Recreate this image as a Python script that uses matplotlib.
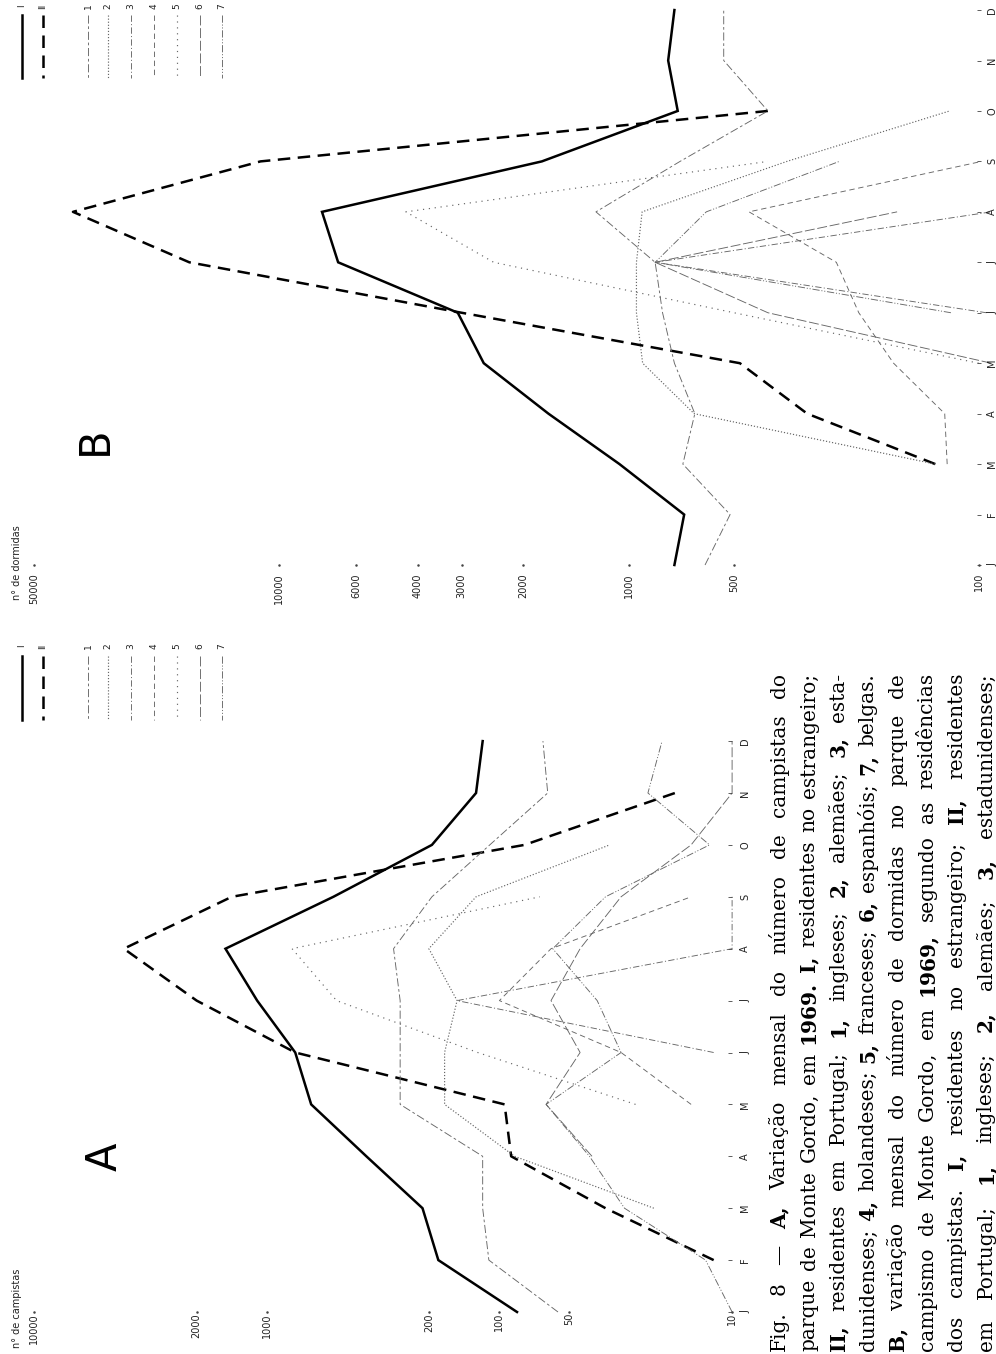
import numpy as np
import matplotlib.pyplot as plt
from matplotlib.lines import Line2D
from matplotlib.font_manager import FontProperties

W, H = 996, 1354
nan = np.nan

meses = ['J', 'F', 'M', 'A', 'M', 'J', 'J', 'A', 'S', 'O', 'N', 'D']
idx = np.arange(12)

# A - número de campistas (J ... D)
camp_I = [84, 183, 214, 373, 644, 754, 1099, 1504, 517, 195, 126, 118]
camp_II = [nan, 12, 35, 89, 95, 754, 2000, 4110, 1413, 78, 17.6, nan]
camp_1 = [56, 111, 118, 118, 267, 267, 267, 285, 195, 110, 62, 65]
camp_2 = [nan, nan, 21.7, 86, 172, 172, 152, 201, 126, 33.6, nan, nan]
camp_3 = [nan, nan, nan, nan, nan, 12, 152, 10, 10, nan, nan, nan]
camp_4 = [nan, nan, nan, nan, 15, 30, 100, 60, 15, nan, nan, nan]
camp_5 = [nan, nan, nan, nan, 26, 124, 501, 778, 67, nan, nan, nan]
camp_6 = [nan, nan, nan, 40, 63, 45, 60, 45, 30, 15, 10, 10]
camp_7 = [10, 13, 29, 41, 63, 30, 38, 59, 35, 12.5, 23, 20]

# B - número de dormidas (J ... D)
dorm_I = [740, 694, 1062, 1695, 2594, 3077, 6761, 7518, 1770, 724, 771, 740]
dorm_II = [nan, nan, 133, 309, 481, 3000, 18000, 38700, 11270, 400, nan, nan]
dorm_1 = [605, 513, 700, 647, 740, 800, 840, 1240, 713, 400, 535, 535]
dorm_2 = [nan, nan, 133, 650, 912, 950, 950, 915, 353, 121, nan, nan]
dorm_3 = [nan, nan, nan, nan, nan, 95, 840, 92, nan, nan, nan, nan]
dorm_4 = [nan, nan, 123, 125, 175, 220, 255, 453, 98, nan, nan, nan]
dorm_5 = [nan, nan, nan, nan, 100, 500, 2430, 4330, 400, nan, nan, nan]
dorm_6 = [nan, nan, nan, nan, 92, 400, 840, 171, nan, nan, nan, nan]
dorm_7 = [nan, nan, nan, nan, nan, 120, 840, 600, 250, nan, nan, nan]

ticks_A = [10000, 2000, 1000, 200, 100, 50, 10]
ticks_B = [50000, 10000, 6000, 4000, 3000, 2000, 1000, 500, 100]

series = ['I', 'II', '1', '2', '3', '4', '5', '6', '7']
dados_A = [camp_I, camp_II, camp_1, camp_2, camp_3, camp_4, camp_5, camp_6, camp_7]
dados_B = [dorm_I, dorm_II, dorm_1, dorm_2, dorm_3, dorm_4, dorm_5, dorm_6, dorm_7]

cinza = '#666666'
estilos = {
    'I': dict(color='black', lw=1.8, ls='-'),
    'II': dict(color='black', lw=1.8, ls=(0, (5, 3))),
    '1': dict(color=cinza, lw=0.65, ls=(0, (9, 3, 3, 3))),
    '2': dict(color=cinza, lw=0.85, ls=(0, (1, 1.6))),
    '3': dict(color=cinza, lw=0.65, ls=(0, (7, 2.5, 1.2, 2.5))),
    '4': dict(color=cinza, lw=0.65, ls=(0, (6, 4))),
    '5': dict(color=cinza, lw=0.85, ls=(0, (1, 4))),
    '6': dict(color=cinza, lw=0.65, ls=(0, (11, 3))),
    '7': dict(color=cinza, lw=0.65, ls=(0, (8, 2, 1.2, 2, 1.2, 2))),
}

fig = plt.figure(figsize=(W / 100, H / 100), dpi=100)
fig.patch.set_facecolor('white')


def px(x, y):
    # pixel da página (origem em cima) -> fração da figura
    return x / W, 1 - y / H


def painel(y_top, y_bot, v_ref, x_ref, px_dec, y_jan, px_mes):
    ax = fig.add_axes([0, 1 - y_bot / H, 1, (y_bot - y_top) / H])
    ax.set_xscale('log')
    lv = np.log10(v_ref)
    ax.set_xlim(10 ** (lv + x_ref / px_dec), 10 ** (lv - (W - x_ref) / px_dec))
    ax.set_ylim((y_jan - y_bot) / px_mes, (y_jan - y_top) / px_mes)
    ax.axis('off')
    return ax


def desenha(ax, dados, ticks, y_jan, px_mes, x_meses, v_mes, topo_rot):
    for nome, vals in zip(series, dados):
        ax.plot(vals, idx, solid_joinstyle='miter', **estilos[nome])
    # rótulos do eixo dos valores
    y_lab = (y_jan - topo_rot) / px_mes
    for v in ticks:
        ax.text(v, y_lab, str(v), rotation=90, rotation_mode='anchor',
                ha='right', va='center', fontsize=7, color='#222222')
        ax.plot([v], [0], marker='.', ms=1.6, color='#444444')
    # meses
    for i, mes in enumerate(meses):
        ax.text(x_meses / W, i, mes, transform=ax.get_yaxis_transform(),
                rotation=90, ha='center', va='center', fontsize=7, color='#222222')
        ax.plot([v_mes], [i], marker='_', ms=3, mew=0.6, color='#444444')


def legenda(xs, y_lab, y0, y1):
    for nome, x in zip(series, xs):
        e = estilos[nome]
        fig.add_artist(Line2D([x / W, x / W], [1 - y0 / H, 1 - y1 / H],
                              color=e['color'], lw=e['lw'], ls=e['ls']))
        fig.text(*px(x, y_lab), nome, rotation=90, ha='center', va='center',
                 fontsize=6.5, color='#222222')


# B - dormidas (parte de cima da página)
axB = painel(0, 620, 50000, 34, 350, 565, 50.45)
desenha(axB, dados_B, ticks_B, 565, 50.45, 992, 100, 573)
fig.text(*px(17, 600), 'n° de dormidas', rotation=90, rotation_mode='anchor',
         ha='left', va='center', fontsize=7, color='#222222')
fig.text(*px(95, 441), 'B', rotation=90, ha='center', va='center',
         fontsize=30, color='black')
legenda([22, 43, 88, 108, 131, 154, 177, 200, 222], 6, 15, 78)

# A - campistas (parte de baixo)
axA = painel(640, 1354, 10000, 34, 232.7, 1312, 51.9)
desenha(axA, dados_A, ticks_A, 1312, 51.9, 745, 10.2, 1313)
fig.text(*px(17, 1348), 'n° de campistas', rotation=90, rotation_mode='anchor',
         ha='left', va='center', fontsize=7, color='#222222')
fig.text(*px(105, 1157), 'A', rotation=90, ha='center', va='center',
         fontsize=30, color='black')
legenda([22, 43, 88, 108, 131, 154, 177, 200, 222], 646, 656, 720)

# legenda da figura, justificada
linhas = [
    "Fig. 8 — A, Variação mensal do número de campistas do",
    "parque de Monte Gordo, em 1969. I, residentes no estrangeiro;",
    "II, residentes em Portugal; 1, ingleses; 2, alemães; 3, esta-",
    "dunidenses; 4, holandeses; 5, franceses; 6, espanhóis; 7, belgas.",
    "B, variação mensal do número de dormidas no parque de",
    "campismo de Monte Gordo, em 1969, segundo as residências",
    "dos campistas. I, residentes no estrangeiro; II, residentes",
    "em Portugal; 1, ingleses; 2, alemães; 3, estadunidenses;",
]
negrito = {'A', 'B', 'I', 'II', '1', '2', '3', '4', '5', '6', '7', '1969'}

renderer = fig.canvas.get_renderer()
y_ini, y_fim = 1351, 673
comp = y_ini - y_fim
x_base0, passo = 785, 29.5


def props(tam, bold):
    return FontProperties(family='DejaVu Serif', size=tam,
                          weight='bold' if bold else 'normal')


def largura(s, fp):
    return renderer.get_text_width_height_descent(s, fp, ismath=False)[0]


def larguras(tam):
    res = []
    for ln in linhas:
        ws = []
        for p in ln.split():
            b = p.rstrip(',.;') in negrito
            ws.append((p, b, largura(p, props(tam, b))))
        res.append(ws)
    return res


tam = 14.5
while True:
    medidas = larguras(tam)
    fp = props(tam, False)
    esp = largura('a a', fp) - 2 * largura('a', fp)
    maior = max(sum(w for _, _, w in ws) + esp * (len(ws) - 1) for ws in medidas)
    if maior <= comp or tam < 9:
        break
    tam -= 0.25

for k, ws in enumerate(medidas):
    x = x_base0 + k * passo
    folga = (comp - sum(w for _, _, w in ws)) / (len(ws) - 1)
    y = y_ini
    for p, b, w in ws:
        fig.text(*px(x, y), p, rotation=90, rotation_mode='anchor', ha='left',
                 va='baseline', fontproperties=props(tam, b), color='black')
        y -= w + folga

fig.savefig('out.png', dpi=100, facecolor='white')
